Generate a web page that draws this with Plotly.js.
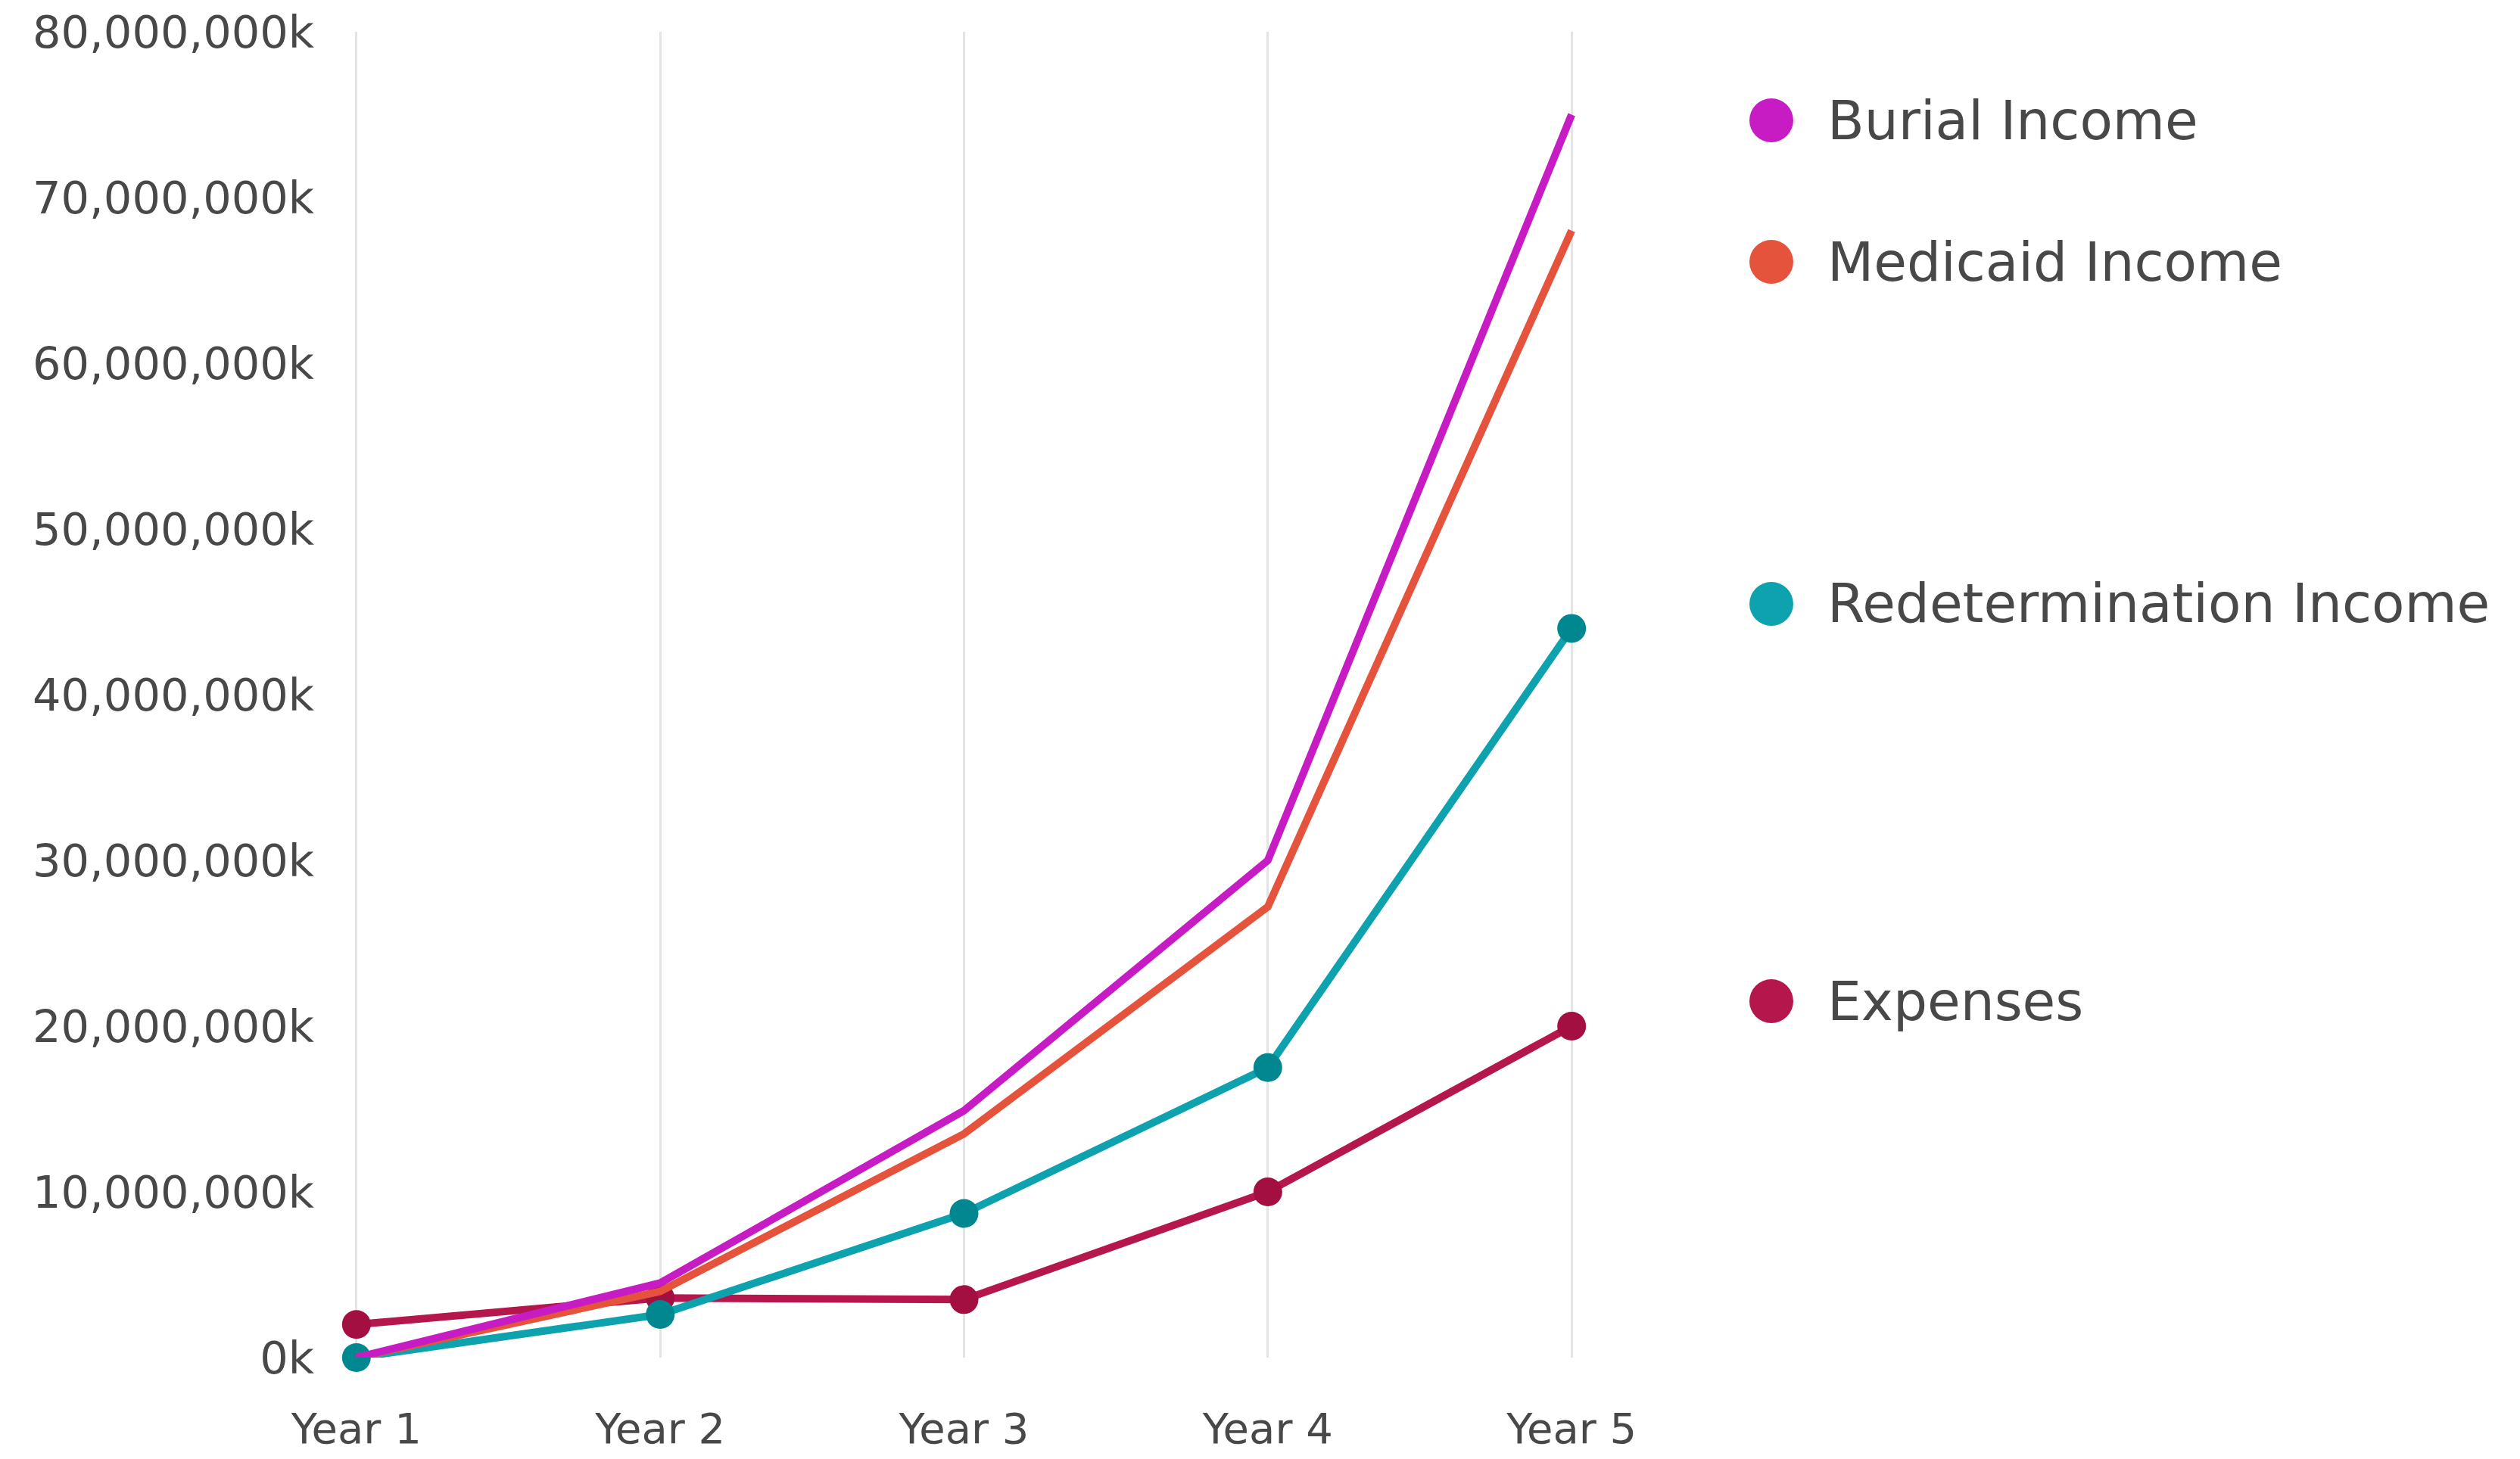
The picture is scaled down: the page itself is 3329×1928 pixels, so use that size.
<!DOCTYPE html>
<html>
<head>
<meta charset="utf-8">
<script src="https://cdn.plot.ly/plotly-3.0.1.min.js"></script>
<style>
  html, body { margin: 0; padding: 0; background: #ffffff; }
  #chart { width: 3329px; height: 1928px; }
</style>
</head>
<body>
<div id="chart"></div>
<script>
// ---- Data (values in thousands; axis labels show a "k" suffix) ----
const years = ["Year 1", "Year 2", "Year 3", "Year 4", "Year 5"];
const burialIncome = [0, 4500000, 14900000, 30000000, 75000000];
const medicaidIncome = [0, 4000000, 13500000, 27200000, 68000000];
const redeterminationIncome = [0, 2600000, 8700000, 17500000, 44000000];
const expenses = [2000000, 3600000, 3500000, 10000000, 20000000];
const seriesNames = ["Burial Income", "Medicaid Income", "Redetermination Income", "Expenses"];
const yTickValues = [0, 10000000, 20000000, 30000000, 40000000, 50000000, 60000000, 70000000, 80000000];
const yTickLabels = ["0k", "10,000,000k", "20,000,000k", "30,000,000k", "40,000,000k",
                     "50,000,000k", "60,000,000k", "70,000,000k", "80,000,000k"];

const colors = {
  burial: "#c71bc4",
  medicaid: "#e5533c",
  redet: "#0ea1ae",
  redetMarker: "#00878f",
  expenses: "#b5164c",
  expensesMarker: "#a30f40"
};

const FONT = "DejaVu Sans, sans-serif";
const TEXT = "#484848";
const LW = 10;

const traces = [
  {
    x: years, y: expenses, name: seriesNames[3], type: "scatter", mode: "lines+markers",
    line: { color: colors.expenses, width: LW },
    marker: { color: colors.expensesMarker, size: 38 },
    cliponaxis: false
  },
  {
    x: years, y: redeterminationIncome, name: seriesNames[2], type: "scatter", mode: "lines+markers",
    line: { color: colors.redet, width: LW },
    marker: { color: colors.redetMarker, size: 38 },
    cliponaxis: false
  },
  {
    x: years, y: medicaidIncome, name: seriesNames[1], type: "scatter", mode: "lines",
    line: { color: colors.medicaid, width: LW },
    cliponaxis: false
  },
  {
    x: years, y: burialIncome, name: seriesNames[0], type: "scatter", mode: "lines",
    line: { color: colors.burial, width: LW },
    cliponaxis: false
  }
];

// Layout geometry (pixels)
const W = 3329, H = 1928;
const pad = 0.012;              // small range padding so edge gridlines are drawn
const unitPx = 1605 / 4;        // pixels per category step
const mL = Math.round(471 - pad * unitPx);
const mR = Math.round(3329 - 2076 - pad * unitPx);
const mT = 42, mB = 1928 - 1794;
const plotW = W - mL - mR, plotH = H - mT - mB;

// Legend placement (pixel-based, converted to paper coordinates)
const legendY = [159, 346, 798, 1323];
const legendColors = [colors.burial, colors.medicaid, colors.redet, colors.expenses];
const dotX = 2340, textX = 2412;

const shapes = [];
const annotations = [];
seriesNames.forEach((name, i) => {
  const py = (H - mB - legendY[i]) / plotH;
  const pxDot = (dotX - mL) / plotW;
  const pxText = (textX - mL) / plotW;
  shapes.push({
    type: "circle", xref: "paper", yref: "paper",
    xsizemode: "pixel", ysizemode: "pixel",
    xanchor: pxDot, yanchor: py,
    x0: -29, x1: 29, y0: -29, y1: 29,
    fillcolor: legendColors[i], line: { width: 0 }
  });
  annotations.push({
    xref: "paper", yref: "paper", x: pxText, y: py,
    xanchor: "left", yanchor: "middle", showarrow: false,
    text: name, font: { family: FONT, size: 71, color: TEXT }
  });
});

const layout = {
  width: W, height: H,
  margin: { l: mL, r: mR, t: mT, b: mB, pad: 0 },
  paper_bgcolor: "#ffffff",
  plot_bgcolor: "#ffffff",
  showlegend: false,
  font: { family: FONT, color: TEXT },
  xaxis: {
    type: "category",
    range: [-pad, 4 + pad],
    showgrid: true, gridcolor: "#e4e4e4", gridwidth: 3,
    showline: false, zeroline: false,
    ticks: "",
    tickfont: { family: FONT, size: 56, color: TEXT },
    ticklabelstandoff: 56,
    fixedrange: true
  },
  yaxis: {
    range: [0, 80000000],
    tickvals: yTickValues,
    ticktext: yTickLabels,
    showgrid: false, showline: false, zeroline: false,
    ticks: "",
    tickfont: { family: FONT, size: 59, color: TEXT },
    ticklabelstandoff: 55 - Math.round(pad * unitPx),
    fixedrange: true
  },
  shapes: shapes,
  annotations: annotations
};

Plotly.newPlot("chart", traces, layout, { displayModeBar: false, staticPlot: true });
</script>
</body>
</html>
